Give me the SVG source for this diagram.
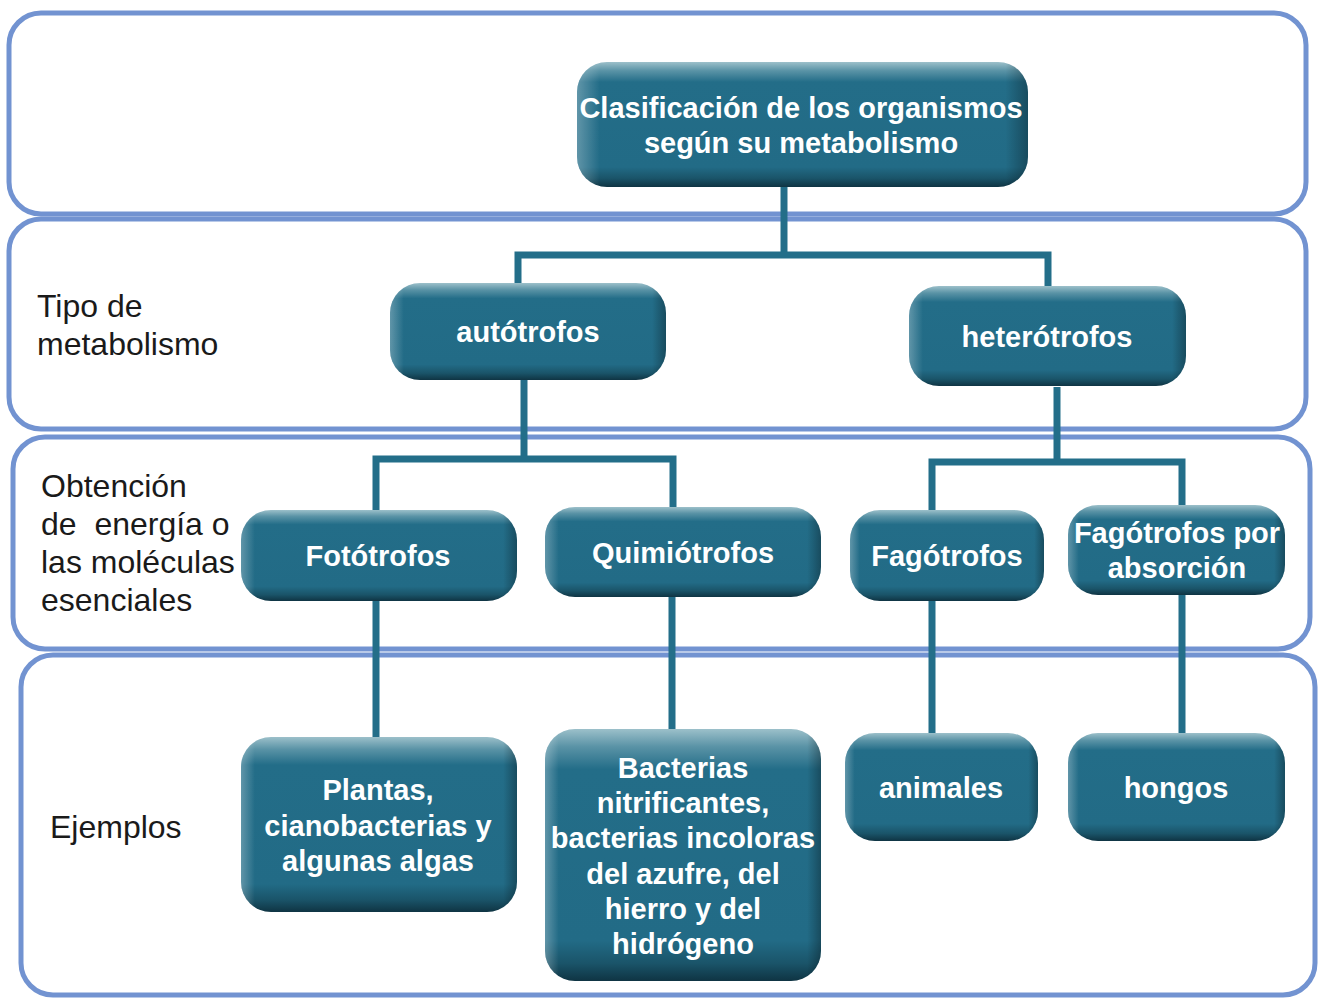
<svg xmlns="http://www.w3.org/2000/svg" width="1319" height="998" viewBox="0 0 1319 998">
<defs>
<linearGradient id="gv" x1="0" y1="0" x2="0" y2="1">
<stop offset="0" stop-color="#9cc0ca"/>
<stop offset="0.07" stop-color="#5a93a6"/>
<stop offset="0.16" stop-color="#236d88"/>
<stop offset="0.84" stop-color="#226b86"/>
<stop offset="0.93" stop-color="#1a5469"/>
<stop offset="1" stop-color="#0f3443"/>
</linearGradient>
<linearGradient id="gh" x1="0" y1="0" x2="1" y2="0">
<stop offset="0" stop-color="#ffffff" stop-opacity="0.28"/>
<stop offset="0.05" stop-color="#ffffff" stop-opacity="0"/>
<stop offset="0.95" stop-color="#000000" stop-opacity="0"/>
<stop offset="1" stop-color="#000000" stop-opacity="0.3"/>
</linearGradient>
<style>
.band{fill:#ffffff;stroke:#7293d1;stroke-width:5}
.nb{fill:url(#gv)}
.nh{fill:url(#gh)}
.nt{font-family:"Liberation Sans",Arial,sans-serif;font-weight:bold;font-size:29px;fill:#ffffff;text-anchor:middle}
.lt{font-family:"Liberation Sans",Arial,sans-serif;font-size:32px;fill:#1a1a1a}
.con{fill:none;stroke:#236e89;stroke-width:7;stroke-linecap:butt;stroke-linejoin:miter}
</style>
</defs>
<g id="bands">
<rect class="band" x="9" y="13" width="1297" height="201" rx="32"/>
<rect class="band" x="9" y="219" width="1297" height="210" rx="32"/>
<rect class="band" x="13" y="437" width="1297" height="212" rx="32"/>
<rect class="band" x="21" y="655" width="1294" height="340" rx="32"/>
</g>
<g id="labels">
<text class="lt" x="37" y="317">Tipo de</text>
<text class="lt" x="37" y="355">metabolismo</text>
<text class="lt" x="41" y="497">Obtención</text>
<text class="lt" x="41" y="535" xml:space="preserve">de  energía o</text>
<text class="lt" x="41" y="573">las moléculas</text>
<text class="lt" x="41" y="611">esenciales</text>
<text class="lt" x="50" y="838">Ejemplos</text>
</g>
<g id="connectors">
<polyline class="con" points="784,187 784,255"/>
<polyline class="con" points="518,283 518,255 1048,255 1048,286"/>
<polyline class="con" points="524,380 524,459"/>
<polyline class="con" points="376,510 376,459 673,459 673,507"/>
<polyline class="con" points="1057,387 1057,462"/>
<polyline class="con" points="932,510 932,462 1182,462 1182,505"/>
<polyline class="con" points="376,601 376,737"/>
<polyline class="con" points="672,597 672,729"/>
<polyline class="con" points="932,601 932,733"/>
<polyline class="con" points="1182,595 1182,733"/>
</g>
<g id="n-root">
<rect class="nb" x="577" y="62" width="451" height="125" rx="30"/>
<rect class="nh" x="577" y="62" width="451" height="125" rx="30"/>
<text class="nt" x="801" y="118">Clasificación de los organismos</text>
<text class="nt" x="801" y="153">según su metabolismo</text>
</g>
<g id="n-autotrofos">
<rect class="nb" x="390" y="283" width="276" height="97" rx="30"/>
<rect class="nh" x="390" y="283" width="276" height="97" rx="30"/>
<text class="nt" x="528" y="342">autótrofos</text>
</g>
<g id="n-heterotrofos">
<rect class="nb" x="909" y="286" width="277" height="100" rx="30"/>
<rect class="nh" x="909" y="286" width="277" height="100" rx="30"/>
<text class="nt" x="1047" y="347">heterótrofos</text>
</g>
<g id="n-fototrofos">
<rect class="nb" x="241" y="510" width="276" height="91" rx="30"/>
<rect class="nh" x="241" y="510" width="276" height="91" rx="30"/>
<text class="nt" x="378" y="566">Fotótrofos</text>
</g>
<g id="n-quimiotrofos">
<rect class="nb" x="545" y="507" width="276" height="90" rx="30"/>
<rect class="nh" x="545" y="507" width="276" height="90" rx="30"/>
<text class="nt" x="683" y="563">Quimiótrofos</text>
</g>
<g id="n-fagotrofos">
<rect class="nb" x="850" y="510" width="194" height="91" rx="30"/>
<rect class="nh" x="850" y="510" width="194" height="91" rx="30"/>
<text class="nt" x="947" y="566">Fagótrofos</text>
</g>
<g id="n-absorcion">
<rect class="nb" x="1068" y="505" width="217" height="90" rx="30"/>
<rect class="nh" x="1068" y="505" width="217" height="90" rx="30"/>
<text class="nt" x="1177" y="543">Fagótrofos por</text>
<text class="nt" x="1177" y="578">absorción</text>
</g>
<g id="n-plantas">
<rect class="nb" x="241" y="737" width="276" height="175" rx="30"/>
<rect class="nh" x="241" y="737" width="276" height="175" rx="30"/>
<text class="nt" x="378" y="800">Plantas,</text>
<text class="nt" x="378" y="836">cianobacterias y</text>
<text class="nt" x="378" y="871">algunas algas</text>
</g>
<g id="n-bacterias">
<rect class="nb" x="545" y="729" width="276" height="252" rx="30"/>
<rect class="nh" x="545" y="729" width="276" height="252" rx="30"/>
<text class="nt" x="683" y="778">Bacterias</text>
<text class="nt" x="683" y="813">nitrificantes,</text>
<text class="nt" x="683" y="848">bacterias incoloras</text>
<text class="nt" x="683" y="884">del azufre, del</text>
<text class="nt" x="683" y="919">hierro y del</text>
<text class="nt" x="683" y="954">hidrógeno</text>
</g>
<g id="n-animales">
<rect class="nb" x="845" y="733" width="193" height="108" rx="30"/>
<rect class="nh" x="845" y="733" width="193" height="108" rx="30"/>
<text class="nt" x="941" y="798">animales</text>
</g>
<g id="n-hongos">
<rect class="nb" x="1068" y="733" width="217" height="108" rx="30"/>
<rect class="nh" x="1068" y="733" width="217" height="108" rx="30"/>
<text class="nt" x="1176" y="798">hongos</text>
</g>
</svg>
